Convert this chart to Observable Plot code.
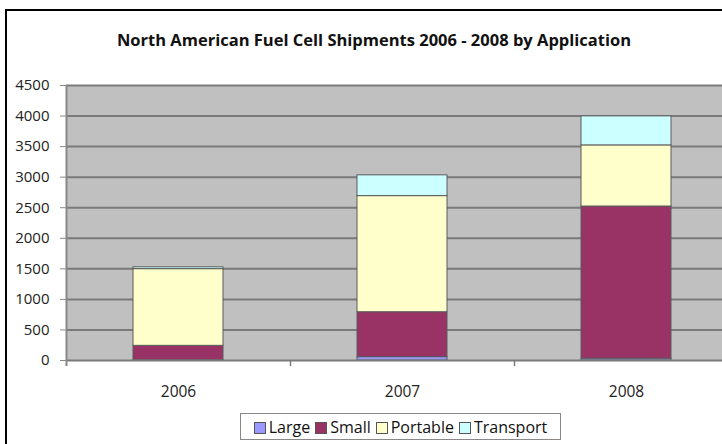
<!DOCTYPE html>
<html>
<head>
<meta charset="utf-8">
<script src="https://cdn.jsdelivr.net/npm/d3@7"></script>
<script src="https://cdn.jsdelivr.net/npm/@observablehq/plot@0.6"></script>
<style>
  html, body { margin: 0; padding: 0; background: #fff; }
  #wrap { position: relative; width: 722px; height: 444px; overflow: hidden; background: #fff; }
  #frame { position: absolute; left: 5px; top: 9px; width: 800px; height: 500px; border-left: 2px solid #000; border-top: 2px solid #000; box-sizing: border-box; }
  #title { position: absolute; left: 0; width: 748px; top: 28px; text-align: center; font: bold 16.5px "Open Sans", sans-serif; color: #111; }
  #chart { position: absolute; left: 0; top: 0; width: 740px; }
  #chart svg { max-width: none !important; }
  #legend { position: absolute; left: 240px; top: 413px; width: 321px; height: 27px; box-sizing: border-box; border: 1px solid #888; background: #fff;
            display: flex; align-items: center; justify-content: center; gap: 5px; font: 16px "Open Sans", sans-serif; color: #111; }
  #legend span.sw { display: inline-block; width: 12px; height: 12px; border: 1px solid #555; margin-right: 3px; vertical-align: -1px; box-sizing: border-box; }
</style>
</head>
<body>
<div id="wrap">
  <div id="frame"></div>
  <div id="chart"></div>
  <div id="title">North American Fuel Cell Shipments 2006 - 2008 by Application</div>
  <div id="legend"></div>
</div>
<script>
const years = ["2006", "2007", "2008"];
const apps = ["Large", "Small", "Portable", "Transport"];
const colors = ["#9999ff", "#993366", "#ffffcc", "#ccffff"];
const large = [5, 55, 30];
const small = [235, 735, 2490];
const portable = [1255, 1900, 1000];
const transport = [30, 340, 475];
const yTicks = [0, 500, 1000, 1500, 2000, 2500, 3000, 3500, 4000, 4500];

const series = [large, small, portable, transport];
const data = [];
apps.forEach((a, j) => years.forEach((y, i) => data.push({year: y, app: a, value: series[j][i]})));

const W = 740, H = 444, mL = 66, mR = 2, mT = 85, mB = 84;
const step = (W - mL - mR) / years.length;

const plot = Plot.plot({
  width: W, height: H,
  marginLeft: mL, marginRight: mR, marginTop: mT, marginBottom: mB,
  style: {background: "transparent", fontFamily: "Open Sans, sans-serif", color: "#222", maxWidth: "none", overflow: "visible"},
  x: {domain: years, paddingInner: 0.6, paddingOuter: 0.3, label: null},
  y: {domain: [0, 4500], label: null},
  color: {domain: apps, range: colors},
  marks: [
    Plot.frame({fill: "#c0c0c0", stroke: null}),
    Plot.ruleY(yTicks.filter(d => d > 0), {stroke: "#7a7a7a", strokeWidth: 2}),
    Plot.barY(data, {x: "year", y: "value", fill: "app", stroke: "#5a5a5a", strokeWidth: 1, order: apps}),
    Plot.ruleY([0], {stroke: "#7a7a7a", strokeWidth: 2}),
    Plot.ruleX([years[0]], {dx: -step / 2, y1: -100, y2: 4500, stroke: "#888", strokeWidth: 2}),
    Plot.ruleX(years, {dx: step / 2, y1: -100, y2: 0, stroke: "#7a7a7a", strokeWidth: 1.5}),
    Plot.axisY({ticks: yTicks, tickSize: 6, tickPadding: 11, stroke: "#888", fontSize: 15, tickFormat: d => String(d)}),
    Plot.axisX({tickSize: 0, tickPadding: 25, fontSize: 15.5})
  ]
});
document.getElementById("chart").appendChild(plot);

const leg = document.getElementById("legend");
apps.forEach((a, j) => {
  const item = document.createElement("span");
  item.innerHTML = `<span class="sw" style="background:${colors[j]}"></span>${a}`;
  leg.appendChild(item);
});
</script>
</body>
</html>
